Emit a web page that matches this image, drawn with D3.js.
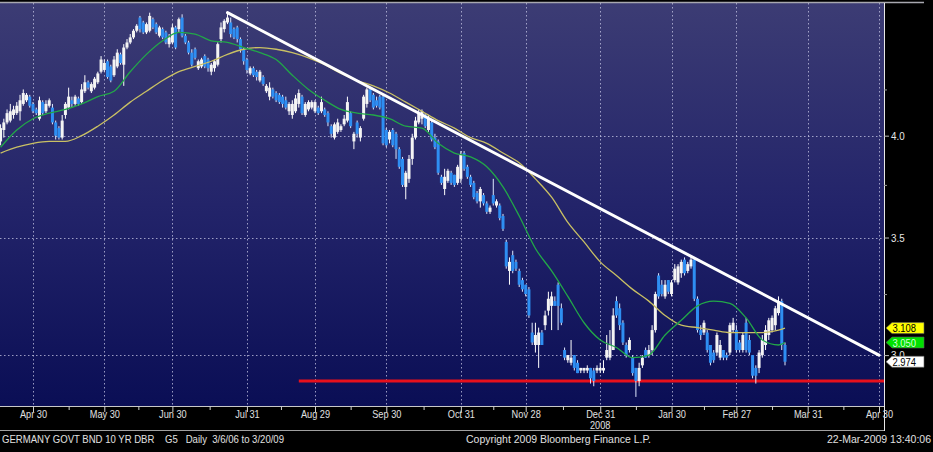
<!DOCTYPE html>
<html><head><meta charset="utf-8">
<script src="https://cdn.jsdelivr.net/npm/d3@7"></script>
<style>html,body{margin:0;padding:0;background:#000;overflow:hidden}svg{display:block}</style>
</head><body><svg id="c" width="933" height="452"></svg>
<script>
// ---------------- DATA ----------------
const firstDay = "2008-04-16";   // first daily candle (trading days, weekends skipped)
const open = [
3.97,4.03,4.07,4.08,4.11,4.12,4.13,4.17,4.19,4.21,
4.17,4.14,4.09,4.18,4.13,4.16,4.15,4.07,4.04,3.99,
4.11,4.15,4.19,4.17,4.20,4.18,4.24,4.29,4.24,4.26,
4.29,4.35,4.36,4.41,4.38,4.33,4.38,4.45,4.39,4.49,
4.52,4.55,4.59,4.67,4.64,4.58,4.59,4.66,4.63,4.56,
4.60,4.58,4.51,4.52,4.61,4.60,4.67,4.56,4.52,4.46,
4.48,4.37,4.38,4.44,4.42,4.35,4.37,4.39,4.54,4.60,
4.64,4.64,4.60,4.61,4.54,4.48,4.42,4.34,4.37,4.35,
4.30,4.32,4.24,4.21,4.25,4.23,4.22,4.21,4.19,4.13,
4.11,4.13,4.17,4.21,4.11,4.14,4.15,4.13,4.15,4.13,
4.14,4.12,4.05,3.99,4.02,4.03,4.06,4.08,4.12,3.97,
4.07,3.99,4.09,4.17,4.25,4.22,4.19,4.21,4.21,4.03,
3.98,4.03,4.01,3.93,3.88,3.74,3.78,3.88,3.99,4.07,
4.09,4.11,4.03,4.07,3.99,3.97,3.79,3.73,3.77,3.81,
3.80,3.76,3.78,3.91,3.84,3.79,3.76,3.71,3.67,3.70,
3.66,3.62,3.70,3.65,3.65,3.60,3.48,3.35,3.42,3.39,
3.35,3.31,3.29,3.27,3.09,3.04,3.04,3.09,3.12,3.18,
3.20,3.22,3.29,3.19,3.02,2.98,2.97,3.00,2.97,2.94,
2.94,2.94,2.95,2.94,2.94,2.94,2.94,2.99,2.99,3.02,
3.22,3.19,3.13,3.04,3.02,2.99,2.95,2.90,2.96,3.02,
3.00,3.02,3.10,3.33,3.29,3.24,3.31,3.25,3.31,3.30,
3.34,3.40,3.35,3.37,3.40,3.23,3.10,3.09,3.09,3.04,
3.01,3.01,2.99,3.02,3.00,3.01,3.10,3.10,3.05,3.02,
3.13,3.06,3.00,2.95,2.95,3.00,3.04,3.08,3.10,3.12,
3.17,3.22,3.04];
const high = [
4.06,4.09,4.14,4.17,4.16,4.18,4.22,4.25,4.23,4.22,
4.18,4.15,4.21,4.19,4.19,4.20,4.17,4.08,4.05,4.11,
4.18,4.26,4.21,4.22,4.21,4.28,4.33,4.30,4.29,4.32,
4.35,4.44,4.42,4.42,4.39,4.44,4.48,4.46,4.51,4.54,
4.57,4.60,4.63,4.68,4.65,4.64,4.70,4.67,4.64,4.62,
4.61,4.59,4.57,4.63,4.62,4.67,4.69,4.57,4.53,4.48,
4.49,4.42,4.43,4.45,4.43,4.40,4.42,4.52,4.64,4.66,
4.70,4.67,4.61,4.62,4.55,4.49,4.43,4.38,4.38,4.36,
4.36,4.33,4.28,4.29,4.26,4.24,4.23,4.22,4.21,4.18,
4.19,4.22,4.25,4.22,4.18,4.19,4.19,4.19,4.16,4.21,
4.15,4.13,4.06,4.07,4.09,4.06,4.11,4.21,4.13,4.02,
4.08,4.05,4.22,4.26,4.26,4.23,4.21,4.22,4.22,4.04,
4.03,4.04,4.02,3.94,3.89,3.82,3.90,4.01,4.10,4.14,
4.14,4.12,4.11,4.08,4.01,3.98,3.80,3.83,3.83,3.82,
3.80,3.85,3.92,3.92,3.85,3.80,3.77,3.72,3.74,3.71,
3.67,3.65,3.78,3.68,3.66,3.61,3.49,3.41,3.44,3.40,
3.36,3.32,3.29,3.28,3.13,3.13,3.11,3.10,3.18,3.26,
3.26,3.24,3.30,3.21,3.03,3.00,3.06,3.00,2.98,2.95,
2.95,2.96,2.95,2.95,2.96,2.97,2.98,3.08,3.10,3.19,
3.24,3.21,3.14,3.05,3.07,3.00,2.95,2.97,3.00,3.03,
3.04,3.12,3.26,3.34,3.31,3.31,3.31,3.31,3.38,3.38,
3.40,3.41,3.39,3.42,3.41,3.24,3.12,3.14,3.10,3.04,
3.02,3.09,3.06,3.02,3.01,3.13,3.15,3.12,3.06,3.09,
3.15,3.08,3.00,2.96,3.02,3.08,3.12,3.15,3.16,3.20,
3.24,3.23,3.05];
const low = [
3.95,3.99,4.06,4.07,4.09,4.11,4.08,4.16,4.18,4.15,
4.12,4.11,4.08,4.11,4.12,4.15,4.06,3.98,3.98,3.98,
4.09,4.14,4.15,4.16,4.16,4.17,4.23,4.25,4.23,4.25,
4.28,4.34,4.35,4.31,4.29,4.32,4.37,4.39,4.27,4.48,
4.51,4.54,4.58,4.58,4.57,4.57,4.58,4.60,4.57,4.55,
4.54,4.51,4.49,4.51,4.48,4.58,4.55,4.51,4.45,4.38,
4.42,4.36,4.37,4.37,4.35,4.33,4.35,4.38,4.52,4.58,
4.63,4.55,4.54,4.52,4.46,4.39,4.34,4.33,4.32,4.30,
4.29,4.27,4.23,4.19,4.20,4.18,4.17,4.15,4.14,4.11,
4.09,4.12,4.15,4.11,4.10,4.13,4.14,4.12,4.11,4.12,
4.10,4.05,3.99,3.98,4.01,4.02,4.05,4.07,4.04,3.93,
3.99,3.97,4.08,4.15,4.18,4.14,4.15,4.14,3.95,3.94,
3.96,3.94,3.88,3.83,3.74,3.68,3.76,3.85,3.98,4.06,
4.06,4.04,4.02,3.97,3.93,3.80,3.75,3.70,3.76,3.75,
3.74,3.75,3.76,3.82,3.78,3.74,3.68,3.66,3.64,3.65,
3.61,3.61,3.65,3.64,3.58,3.53,3.36,3.29,3.34,3.35,
3.28,3.26,3.24,3.15,3.04,3.01,2.95,3.04,3.10,3.16,
3.10,3.20,3.10,3.12,2.98,2.97,2.96,2.94,2.93,2.93,
2.93,2.93,2.89,2.88,2.93,2.93,2.93,2.98,2.98,3.02,
3.15,3.10,3.04,2.99,3.01,2.92,2.84,2.88,2.95,2.99,
2.99,3.00,3.09,3.23,3.24,3.23,3.25,3.24,3.30,3.29,
3.32,3.33,3.34,3.36,3.22,3.09,3.06,3.08,3.01,2.96,
2.97,3.00,2.98,2.98,2.98,3.00,3.09,3.01,3.01,3.01,
3.01,3.00,2.91,2.89,2.93,2.99,3.02,3.06,3.09,3.10,
3.16,3.02,2.96];
const close = [
4.04,4.07,4.12,4.13,4.14,4.16,4.19,4.23,4.22,4.16,
4.13,4.12,4.19,4.12,4.17,4.19,4.07,4.00,3.99,4.08,
4.17,4.21,4.17,4.21,4.17,4.25,4.29,4.26,4.28,4.31,
4.34,4.42,4.40,4.32,4.30,4.42,4.46,4.40,4.49,4.52,
4.55,4.59,4.62,4.60,4.58,4.63,4.68,4.61,4.58,4.61,
4.55,4.52,4.55,4.61,4.49,4.66,4.56,4.52,4.46,4.39,
4.43,4.41,4.42,4.38,4.37,4.39,4.41,4.51,4.61,4.65,
4.67,4.57,4.55,4.54,4.48,4.41,4.36,4.37,4.33,4.32,
4.35,4.28,4.27,4.26,4.21,4.19,4.18,4.17,4.15,4.17,
4.17,4.20,4.23,4.12,4.17,4.18,4.18,4.18,4.12,4.18,
4.11,4.07,4.01,4.06,4.07,4.05,4.09,4.18,4.05,4.01,
4.01,4.04,4.21,4.25,4.19,4.15,4.16,4.15,3.96,3.95,
4.02,3.95,3.93,3.84,3.75,3.81,3.88,3.99,4.08,4.12,
4.13,4.05,4.09,3.98,3.94,3.81,3.76,3.79,3.82,3.76,
3.75,3.84,3.90,3.83,3.79,3.75,3.69,3.67,3.73,3.66,
3.62,3.64,3.66,3.67,3.59,3.54,3.37,3.39,3.35,3.36,
3.29,3.27,3.25,3.16,3.05,3.08,3.09,3.04,3.16,3.23,
3.24,3.20,3.20,3.13,2.99,3.00,2.99,2.95,2.93,2.95,
2.95,2.95,2.91,2.90,2.95,2.95,2.95,3.02,3.04,3.16,
3.16,3.12,3.05,3.00,3.06,2.93,2.90,2.95,2.99,2.99,
3.02,3.10,3.25,3.24,3.25,3.29,3.26,3.30,3.36,3.37,
3.39,3.34,3.38,3.40,3.23,3.10,3.08,3.13,3.02,2.97,
2.98,3.08,3.04,2.99,2.99,3.12,3.13,3.02,3.02,3.08,
3.02,3.01,2.92,2.92,3.01,3.06,3.10,3.14,3.15,3.19,
3.22,3.04,2.974];

const maSampleIdx = [0,5,10,15,20,25,30,35,40,45,50,55,60,65,70,75,80,85,90,95,100,105,110,115,120,125,130,135,140,145,150,155,160,165,170,175,180,185,190,195,200,205,210,215,220,225,230,235,240,242];
const maGreen = [3.94,4.03,4.09,4.12,4.14,4.17,4.21,4.24,4.35,4.45,4.53,4.58,4.57,4.53,4.52,4.49,4.46,4.42,4.33,4.25,4.19,4.14,4.12,4.11,4.09,4.05,4.04,3.96,3.91,3.89,3.84,3.74,3.60,3.45,3.35,3.24,3.13,3.06,3.03,2.99,3.00,3.08,3.14,3.20,3.22,3.21,3.15,3.06,3.04,3.05];
const maYellow = [3.91,3.94,3.96,3.97,3.97,4.00,4.05,4.11,4.18,4.24,4.30,4.35,4.38,4.41,4.45,4.48,4.49,4.48,4.46,4.43,4.39,4.34,4.30,4.27,4.23,4.18,4.13,4.08,4.04,3.99,3.96,3.91,3.86,3.78,3.69,3.57,3.48,3.39,3.33,3.27,3.22,3.16,3.12,3.11,3.10,3.09,3.09,3.09,3.10,3.108];

const tickDates  = ["2008-04-30","2008-05-30","2008-06-30","2008-07-31","2008-08-29","2008-09-30","2008-10-31","2008-11-28","2008-12-31","2009-01-30","2009-02-27","2009-03-31","2009-04-30"];
const tickLabels = ["Apr 30","May 30","Jun 30","Jul 31","Aug 29","Sep 30","Oct 31","Nov 28","Dec 31","Jan 30","Feb 27","Mar 31","Apr 30"];
const yearLabelDate = "2008-12-31", yearLabel = "2008";
const yTicks = [3.0, 3.5, 4.0];
const yMinorTicks = [3.25, 3.75, 4.25];
const trendDates = ["2008-07-23","2009-04-30"], trendValues = [4.70, 3.00];
const supportStart = "2008-08-22", supportValue = 2.90;
const tagValues = [3.108, 3.050, 2.974];
const tagLabels = ["3.108","3.050","2.974"];
const tagFills  = ["#ffff00","#00e000","#ffffff"];
const tagText   = ["#000000","#d8ffd8","#000000"];
const footerLeft = "GERMANY GOVT BND 10 YR DBR    G5   Daily  3/6/06 to 3/20/09";
const footerCenter = "Copyright 2009 Bloomberg Finance L.P.";
const footerRight = "22-Mar-2009 13:40:06";

// ---------------- CHART ----------------
const W = 933, H = 452;
const P = {l:0, r:884, t:3, b:406};
const svg = d3.select("#c");
const parse = d3.utcParse("%Y-%m-%d");
const days = d3.utcDays(parse(firstDay), parse("2009-05-12")).filter(d => d.getUTCDay() % 6 !== 0);
const dIdx = new Map(days.map((d,i) => [+d, i]));
const idxOf = s => dIdx.get(+parse(s));
const x = d3.scaleLinear().domain([idxOf("2008-04-30"), idxOf("2009-04-30")]).range([33, 879]);
const y = d3.scaleLog().domain([2.81, 4.76]).range([405, 3]);
const FONT = "'Liberation Sans', Arial, sans-serif";

svg.append("rect").attr("width", W).attr("height", H).attr("fill", "#000");
const defs = svg.append("defs");
const g1 = defs.append("linearGradient").attr("id","bg").attr("x1",0).attr("y1",0).attr("x2",0).attr("y2",1);
g1.append("stop").attr("offset","0%").attr("stop-color","#3c3c74");
g1.append("stop").attr("offset","50%").attr("stop-color","#23246a");
g1.append("stop").attr("offset","100%").attr("stop-color","#0a0e55");
defs.append("clipPath").attr("id","clip").append("rect").attr("x",P.l).attr("y",P.t).attr("width",P.r-P.l).attr("height",P.b-P.t);

svg.append("rect").attr("x",P.l).attr("y",P.t).attr("width",P.r-P.l).attr("height",P.b-P.t).attr("fill","url(#bg)");

const plot = svg.append("g").attr("clip-path","url(#clip)");
// grid
const tickIdx = tickDates.map(idxOf);
plot.selectAll(".vg").data(tickIdx).join("line")
  .attr("x1", d => Math.round(x(d))+0.5).attr("x2", d => Math.round(x(d))+0.5)
  .attr("y1", P.t).attr("y2", P.b)
  .attr("stroke","#c8c8e6").attr("stroke-opacity",0.75).attr("stroke-dasharray","1.5,2.5");
plot.selectAll(".hg").data(yTicks).join("line")
  .attr("x1", P.l).attr("x2", P.r)
  .attr("y1", d => Math.round(y(d))+0.5).attr("y2", d => Math.round(y(d))+0.5)
  .attr("stroke","#c8c8e6").attr("stroke-opacity",0.75).attr("stroke-dasharray","1.5,2.5");

// support line
plot.append("line")
  .attr("x1", x(idxOf(supportStart))).attr("x2", P.r)
  .attr("y1", y(supportValue)).attr("y2", y(supportValue))
  .attr("stroke","#e8101c").attr("stroke-width",3);

// candles
const candles = close.map((c,i) => ({i, o:open[i], h:high[i], l:low[i], c}));
const cg = plot.append("g");
cg.selectAll(".wick").data(candles).join("line")
  .attr("x1", d => x(d.i)).attr("x2", d => x(d.i))
  .attr("y1", d => y(d.h)).attr("y2", d => y(d.l))
  .attr("stroke", d => d.c >= d.o ? "#ffffff" : "#dfe9ff").attr("stroke-width",1);
cg.selectAll(".body").data(candles).join("rect")
  .attr("x", d => x(d.i) - 1.5).attr("width", 3)
  .attr("y", d => y(Math.max(d.o,d.c)))
  .attr("height", d => Math.max(1, Math.abs(y(d.o) - y(d.c))))
  .attr("fill", d => d.c >= d.o ? "#f4f4f4" : "#2e8ef2");

// moving averages
const maLine = vals => d3.line().curve(d3.curveMonotoneX)
  .x((v,k) => x(maSampleIdx[k])).y(v => y(v))(vals);
plot.append("path").attr("d", maLine(maYellow)).attr("fill","none").attr("stroke","#c9c064").attr("stroke-width",1.3);
plot.append("path").attr("d", maLine(maGreen)).attr("fill","none").attr("stroke","#22a848").attr("stroke-width",1.3);

// trend line
plot.append("line")
  .attr("x1", x(idxOf(trendDates[0]))).attr("y1", y(trendValues[0]))
  .attr("x2", x(idxOf(trendDates[1]))).attr("y2", y(trendValues[1]))
  .attr("stroke","#ffffff").attr("stroke-width",3).attr("stroke-linecap","round");

// frame lines
svg.append("line").attr("x1",0).attr("x2",924).attr("y1",2.5).attr("y2",2.5).attr("stroke","#a8a8b0").attr("stroke-width",1.5);
svg.append("line").attr("x1",0).attr("x2",P.r).attr("y1",406.5).attr("y2",406.5).attr("stroke","#c8c8c8").attr("stroke-width",1.2);
svg.append("line").attr("x1",0).attr("x2",P.r).attr("y1",430.5).attr("y2",430.5).attr("stroke","#a0a0a0").attr("stroke-width",1);
svg.append("line").attr("x1",P.r+0.5).attr("x2",P.r+0.5).attr("y1",3).attr("y2",431).attr("stroke","#e8e8e8").attr("stroke-width",1);

function squeeze(sel, f) {
  sel.each(function(){ const n=this; const L=n.getComputedTextLength(); n.setAttribute("textLength", L*f); n.setAttribute("lengthAdjust","spacingAndGlyphs"); });
}

// x axis
const xAxis = svg.append("g").attr("transform",`translate(0,${P.b})`)
  .call(d3.axisBottom(x).tickValues(tickIdx).tickFormat((d,k) => tickLabels[k]).tickSize(6).tickPadding(-2.5));
xAxis.select(".domain").remove();
xAxis.selectAll(".tick line").attr("stroke","#cfcfcf");
xAxis.selectAll("text").attr("fill","#e0e0e0").style("font-family",FONT).style("font-size","11.5px").call(squeeze,0.8);
const mids = tickIdx.slice(1).map((d,k) => (d + tickIdx[k]) / 2);
const xMinor = svg.append("g").attr("transform",`translate(0,${P.b})`)
  .call(d3.axisBottom(x).tickValues(mids).tickFormat("").tickSize(4));
xMinor.select(".domain").remove();
xMinor.selectAll(".tick line").attr("stroke","#cfcfcf");
svg.append("text").attr("x", x(idxOf(yearLabelDate))).attr("y",428.5).attr("text-anchor","middle")
  .attr("fill","#e0e0e0").style("font-family",FONT).style("font-size","11.5px").text(yearLabel).call(squeeze,0.8);

// y axis
const yAxis = svg.append("g").attr("transform",`translate(${P.r},0)`)
  .call(d3.axisRight(y).tickValues(yTicks).tickFormat(d3.format(".1f")).tickSize(5).tickPadding(2));
yAxis.select(".domain").remove();
yAxis.selectAll(".tick line").attr("stroke","#bbbbbb");
yAxis.selectAll("text").attr("fill","#e8e8e8").style("font-family",FONT).style("font-size","11.5px").call(squeeze,0.85);
const yMinor = svg.append("g").attr("transform",`translate(${P.r},0)`)
  .call(d3.axisRight(y).tickValues(yMinorTicks).tickFormat("").tickSize(3));
yMinor.select(".domain").remove();
yMinor.selectAll(".tick line").attr("stroke","#999999");

// last value tags (drawn over the 3.0 label, as in the original)
const tags = svg.append("g");
tagValues.forEach((v,k) => {
  const yy = y(v);
  tags.append("path")
    .attr("d", `M886,${yy} L892,${yy-5.5} L924,${yy-5.5} L924,${yy+5.5} L892,${yy+5.5} Z`)
    .attr("fill", tagFills[k]).attr("stroke","#606060").attr("stroke-width",0.6);
  tags.append("text").attr("x",892.5).attr("y",yy+4.2).attr("fill",tagText[k])
    .style("font-family",FONT).style("font-size","11.5px").text(tagLabels[k]).call(squeeze,0.82);
});

// footer
const fy = 443;
svg.append("text").attr("x",2).attr("y",fy).attr("fill","#e0e0e0").attr("xml:space","preserve")
  .style("white-space","pre")
  .style("font-family",FONT).style("font-size","10.5px").text(footerLeft)
  .attr("textLength",282).attr("lengthAdjust","spacingAndGlyphs");
svg.append("text").attr("x",466).attr("y",fy).attr("fill","#e0e0e0")
  .style("font-family",FONT).style("font-size","10.5px").text(footerCenter)
  .attr("textLength",185).attr("lengthAdjust","spacingAndGlyphs");
svg.append("text").attr("x",827).attr("y",fy).attr("fill","#e0e0e0")
  .style("font-family",FONT).style("font-size","10.5px").text(footerRight)
  .attr("textLength",104).attr("lengthAdjust","spacingAndGlyphs");
</script>
</body></html>
